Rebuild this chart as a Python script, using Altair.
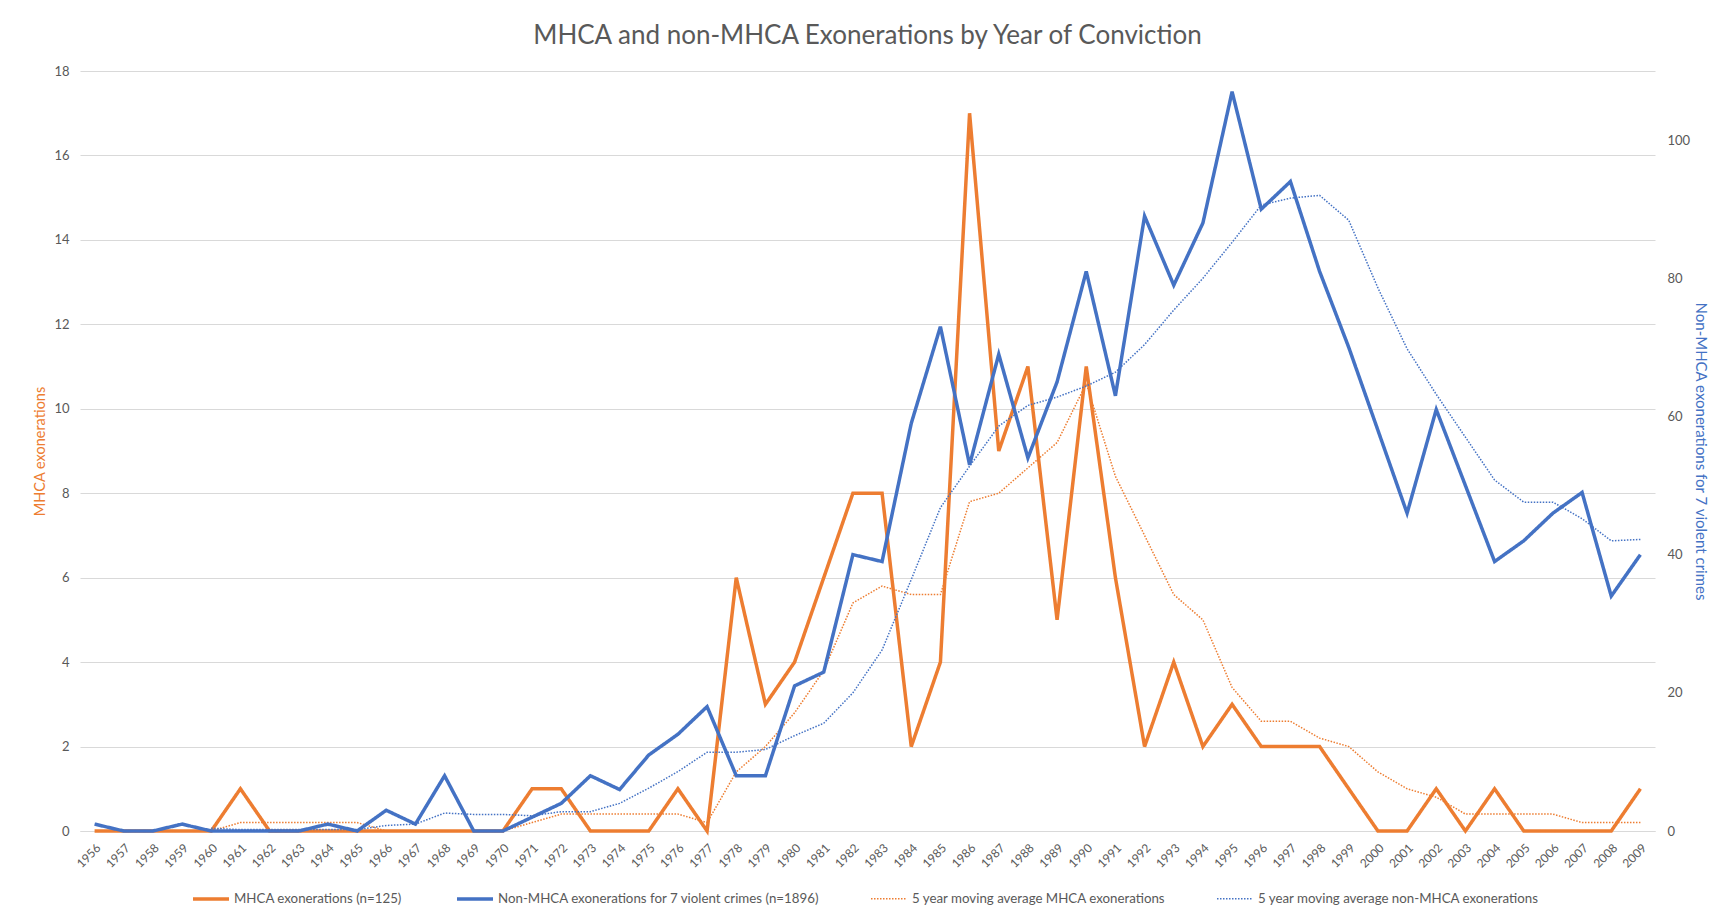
import altair as alt
import pandas as pd

years = list(range(1956, 2010))

mhca = [0, 0, 0, 0, 0, 1, 0, 0, 0, 0,
        0, 0, 0, 0, 0, 1, 1, 0, 0, 0,
        1, 0, 6, 3, 4, 6, 8, 8, 2, 4,
        17, 9, 11, 5, 11, 6, 2, 4, 2, 3,
        2, 2, 2, 1, 0, 0, 1, 0, 1, 0,
        0, 0, 0, 1]

non_mhca = [1, 0, 0, 1, 0, 0, 0, 0, 1, 0,
            3, 1, 8, 0, 0, 2, 4, 8, 6, 11,
            14, 18, 8, 8, 21, 23, 40, 39, 59, 73,
            53, 69, 54, 65, 81, 63, 89, 79, 88, 107,
            90, 94, 81, 70, 58, 46, 61, 50, 39, 42,
            46, 49, 34, 40]

mhca_ma = [None, None, None, None, 0.0, 0.2, 0.2, 0.2, 0.2, 0.2,
           0.0, 0.0, 0.0, 0.0, 0.0, 0.2, 0.4, 0.4, 0.4, 0.4,
           0.4, 0.2, 1.4, 2.0, 2.8, 3.8, 5.4, 5.8, 5.6, 5.6,
           7.8, 8.0, 8.6, 9.2, 10.6, 8.4, 7.0, 5.6, 5.0, 3.4,
           2.6, 2.6, 2.2, 2.0, 1.4, 1.0, 0.8, 0.4, 0.4, 0.4,
           0.4, 0.2, 0.2, 0.2]

non_mhca_ma = [None, None, None, None, 0.4, 0.2, 0.2, 0.2, 0.2, 0.2,
               0.8, 1.0, 2.6, 2.4, 2.4, 2.2, 2.8, 2.8, 4.0, 6.2,
               8.6, 11.4, 11.4, 11.8, 13.8, 15.6, 20.0, 26.2, 36.4, 46.8,
               52.8, 58.6, 61.6, 62.8, 64.4, 66.4, 70.4, 75.4, 80.0, 85.2,
               90.6, 91.6, 92.0, 88.4, 78.6, 69.8, 63.2, 57.0, 50.8, 47.6,
               47.6, 45.2, 42.0, 42.2]

series_names = [
    "MHCA exonerations (n=125)",
    "Non-MHCA exonerations for 7 violent crimes (n=1896)",
    "5 year moving average MHCA exonerations",
    "5 year moving average non-MHCA exonerations",
]
series_colors = ["#ED7D31", "#4472C4", "#ED7D31", "#4472C4"]
series_dashes = [[1, 0], [1, 0], [1.5, 1.5], [1.5, 1.5]]
series_widths = [3.5, 3.5, 1.5, 1.5]

title_text = "MHCA and non-MHCA Exonerations by Year of Conviction"
left_title = "MHCA exonerations"
right_title = "Non-MHCA exonerations for  7 violent crimes"

left_df = pd.concat([
    pd.DataFrame({"year": years, "value": mhca, "series": series_names[0]}),
    pd.DataFrame({"year": years, "value": mhca_ma, "series": series_names[2]}),
])
right_df = pd.concat([
    pd.DataFrame({"year": years, "value": non_mhca, "series": series_names[1]}),
    pd.DataFrame({"year": years, "value": non_mhca_ma, "series": series_names[3]}),
])

FONT = "Lato"
GRAY = "#595959"

legend = alt.Legend(
    title=None, orient="none", legendX=111, legendY=808,
    direction="horizontal", columns=4, columnPadding=48,
    symbolType="stroke", symbolSize=1296, labelOffset=3,
    labelFont=FONT, labelFontSize=13.3, labelColor=GRAY, labelLimit=0,
)

color = alt.Color("series:N", scale=alt.Scale(domain=series_names, range=series_colors), legend=legend)
dash = alt.StrokeDash("series:N", scale=alt.Scale(domain=series_names, range=series_dashes), legend=legend)
width = alt.StrokeWidth("series:N", scale=alt.Scale(type="ordinal", domain=series_names, range=series_widths), legend=legend)

x_enc = alt.X("year:O", title=None, axis=alt.Axis(
    labelAngle=-45, labelAlign="right", labelBaseline="top", labelPadding=11,
    ticks=False, domain=True, domainColor="#d9d9d9", grid=False,
    labelFont=FONT, labelFontSize=12, labelColor=GRAY))

left = alt.Chart(left_df).mark_line(strokeJoin="miter").encode(
    x=x_enc,
    y=alt.Y("value:Q", scale=alt.Scale(domain=[0, 18], nice=False),
            axis=alt.Axis(orient="left", values=list(range(0, 19, 2)), title=left_title,
                          titleColor="#ED7D31", titleFont=FONT, titleFontSize=14.5, titleFontWeight="normal",
                          titleX=-40, titleY=380, titleAlign="center", titleBaseline="middle", titleAngle=-90,
                          ticks=False, domain=False, grid=True, gridColor="#d9d9d9", gridWidth=1,
                          labelPadding=11, labelFont=FONT, labelFontSize=13, labelColor=GRAY)),
    color=color, strokeDash=dash, strokeWidth=width,
)

right = alt.Chart(right_df).mark_line(strokeJoin="miter").encode(
    x=x_enc,
    y=alt.Y("value:Q", scale=alt.Scale(domain=[0, 110], nice=False),
            axis=alt.Axis(orient="right", values=list(range(0, 101, 20)), title=right_title,
                          titleColor="#4472C4", titleFont=FONT, titleFontSize=15, titleFontWeight="normal",
                          titleX=45, titleY=380, titleAlign="center", titleBaseline="middle", titleAngle=90,
                          ticks=False, domain=False, grid=False,
                          labelPadding=12, labelFont=FONT, labelFontSize=13, labelColor=GRAY)),
    color=color, strokeDash=dash, strokeWidth=width,
)

chart = alt.layer(left, right).resolve_scale(y="independent").properties(
    width=1575, height=760,
    title=alt.TitleParams(title_text, font=FONT, fontSize=26, fontWeight="normal", color=GRAY,
                          anchor="middle", frame="group", baseline="middle", offset=3),
    autosize=alt.AutoSizeParams(type="none"),
    padding={"left": 72, "top": 63, "right": 60, "bottom": 76},
).configure_view(stroke=None)

chart.save("out.html", embed_options={"renderer": "svg", "actions": False})
